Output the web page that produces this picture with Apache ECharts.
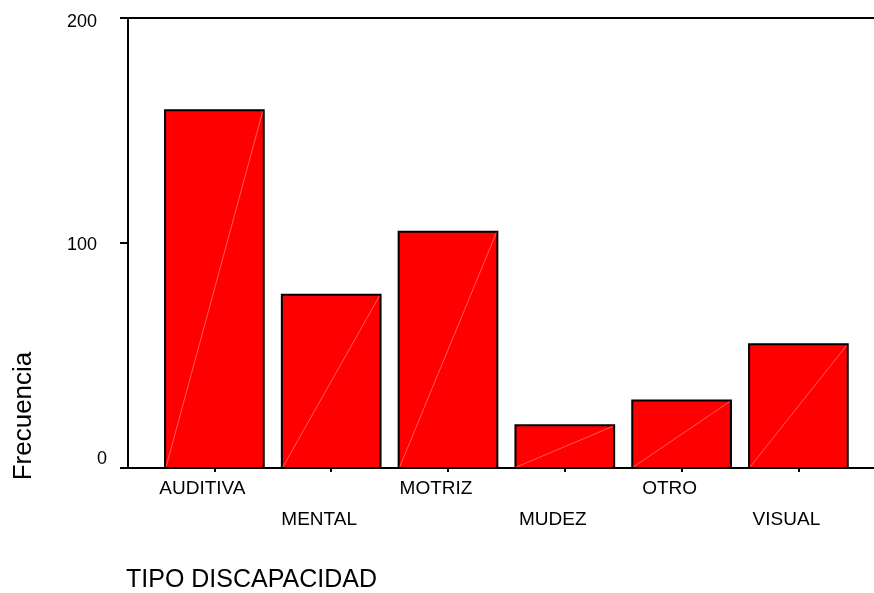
<!DOCTYPE html>
<html>
<head>
<meta charset="utf-8">
<script src="https://cdn.jsdelivr.net/npm/echarts@6/dist/echarts.min.js"></script>
<style>
  html, body { margin: 0; padding: 0; background: #fff; }
  #main { width: 874px; height: 593px; }
</style>
</head>
<body>
<div id="main"></div>
<script>
var categories = ['AUDITIVA', 'MENTAL', 'MOTRIZ', 'MUDEZ', 'OTRO', 'VISUAL'];
var frecuencia = [159, 77, 105, 19, 30, 55];
var yTicks = [0, 100, 200];

var FONT = '"Liberation Sans", Arial, sans-serif';

var myChart = echarts.init(document.getElementById('main'));

// barras con borde negro y la diagonal clara de SPSS
function renderBar(params, api) {
	var i = api.value(0);
	var top = api.coord([i, api.value(1)]);
	var base = api.coord([i, 0]);
	var w = api.size([1, 0])[0] * 0.845;
	var x0 = top[0] - w / 2;
	return {
		type: 'group',
		children: [{
			type: 'rect',
			shape: { x: x0, y: top[1], width: w, height: base[1] - top[1] },
			style: { fill: '#ff0000', stroke: '#000', lineWidth: 2 }
		}, {
			type: 'line',
			shape: { x1: x0 + 1, y1: base[1] - 1, x2: x0 + w - 1, y2: top[1] + 1 },
			style: { stroke: 'rgba(255,220,220,0.7)', lineWidth: 0.6 }
		}]
	};
}

var option = {
	animation: false,
	textStyle: { fontFamily: FONT },
	grid: [
		{ left: 156, right: 17.2, top: 18, bottom: 125 },
		{ left: 128, right: 0, top: 18, bottom: 125 }
	],
	xAxis: [{
		type: 'category',
		gridIndex: 0,
		data: categories,
		axisLine: { show: false },
		axisTick: { show: true, alignWithLabel: true, length: 4, lineStyle: { color: '#000', width: 2 } },
		axisLabel: {
			interval: 0,
			margin: 5.5,
			color: '#000',
			fontSize: 19,
			lineHeight: 31,
			padding: [0, 24, 0, 0],
			fontFamily: FONT,
			formatter: function (v, i) {
				return i % 2 ? '\n' + v : v;
			}
		}
	}, {
		type: 'value',
		gridIndex: 1,
		position: 'bottom',
		axisLine: { show: true, lineStyle: { color: '#000', width: 2 } },
		axisTick: { show: false },
		axisLabel: { show: false },
		splitLine: { show: false }
	}, {
		type: 'value',
		gridIndex: 1,
		position: 'top',
		axisLine: { show: true, lineStyle: { color: '#000', width: 2 } },
		axisTick: { show: false },
		axisLabel: { show: false },
		splitLine: { show: false }
	}],
	yAxis: [{
		type: 'value',
		gridIndex: 0,
		min: yTicks[0],
		max: yTicks[yTicks.length - 1],
		show: false
	}, {
		type: 'value',
		gridIndex: 1,
		min: yTicks[0],
		max: yTicks[yTicks.length - 1],
		interval: 100,
		axisLine: { show: true, lineStyle: { color: '#000', width: 2 } },
		axisTick: { show: true, inside: false, length: 8, lineStyle: { color: '#000', width: 2 } },
		splitLine: { show: false },
		axisLabel: {
			margin: 21,
			color: '#000',
			fontSize: 18,
			fontFamily: FONT,
			formatter: function (v) {
				if (v === 0) return '{z|' + v + '}';
				if (v === 200) return '{t|' + v + '}';
				return '{n|' + v + '}';
			},
			rich: {
				z: { fontSize: 18, fontFamily: FONT, color: '#000', padding: [0, 0, 18, 0] },
				n: { fontSize: 18, fontFamily: FONT, color: '#000', padding: [4, 10, 0, 0] },
				t: { fontSize: 18, fontFamily: FONT, color: '#000', padding: [8, 10, 0, 0] }
			}
		}
	}],
	graphic: [{
		type: 'text',
		x: 24,
		y: 416,
		rotation: Math.PI / 2,
		style: {
			text: 'Frecuencia',
			fontSize: 26,
			fontFamily: FONT,
			fill: '#000',
			align: 'center',
			verticalAlign: 'middle'
		}
	}, {
		type: 'text',
		x: 126,
		y: 580,
		style: {
			text: 'TIPO DISCAPACIDAD',
			fontSize: 25,
			fontFamily: FONT,
			fill: '#000',
			align: 'left',
			verticalAlign: 'middle'
		}
	}],
	series: [{
		type: 'custom',
		xAxisIndex: 0,
		yAxisIndex: 0,
		renderItem: renderBar,
		encode: { x: 0, y: 1 },
		data: frecuencia.map(function (v, i) { return [i, v]; }),
		z: 3
	}]
};

myChart.setOption(option);
</script>
</body>
</html>
